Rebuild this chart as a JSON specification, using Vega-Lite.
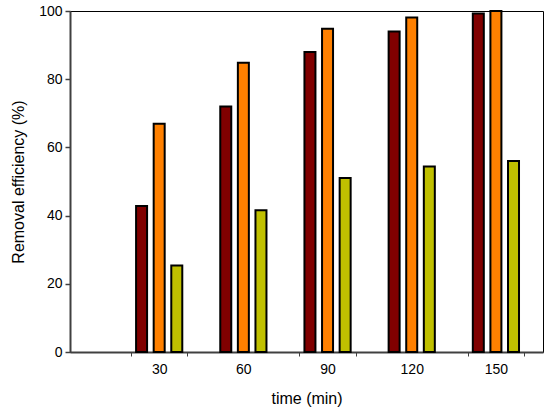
{
  "$schema": "https://vega.github.io/schema/vega-lite/v6.json",
  "autosize": {"type": "none"},
  "padding": {"left": 70, "top": 11, "right": 7, "bottom": 64},
  "width": 473,
  "height": 341,
  "background": "white",
  "config": {
    "view": {"stroke": "black", "strokeWidth": 1},
    "font": "Liberation Sans",
    "axis": {
      "labelFont": "Liberation Sans",
      "titleFont": "Liberation Sans",
      "labelFontSize": 14,
      "titleFontSize": 16,
      "titleFontWeight": "normal",
      "labelColor": "black",
      "titleColor": "black",
      "domainColor": "#404040",
      "domainWidth": 2,
      "tickColor": "#404040",
      "grid": false
    }
  },
  "data": {
    "values": [
      {"time": 30, "series": "A", "value": 42.8},
      {"time": 30, "series": "B", "value": 66.9},
      {"time": 30, "series": "C", "value": 25.4},
      {"time": 60, "series": "A", "value": 72.0},
      {"time": 60, "series": "B", "value": 84.8},
      {"time": 60, "series": "C", "value": 41.6},
      {"time": 90, "series": "A", "value": 88.0},
      {"time": 90, "series": "B", "value": 94.8},
      {"time": 90, "series": "C", "value": 51.0},
      {"time": 120, "series": "A", "value": 94.0},
      {"time": 120, "series": "B", "value": 98.1},
      {"time": 120, "series": "C", "value": 54.4},
      {"time": 150, "series": "A", "value": 99.3},
      {"time": 150, "series": "B", "value": 100},
      {"time": 150, "series": "C", "value": 56.0}
    ]
  },
  "encoding": {
    "x": {
      "field": "time",
      "type": "quantitative",
      "scale": {"domain": [0, 165], "nice": false, "zero": true},
      "axis": {
        "title": "time (min)",
        "titlePadding": 14,
        "values": [20, 30, 40, 60, 80, 90, 100, 120, 140, 150, 160],
        "labelExpr": "datum.value % 30 == 0 ? datum.label : ''",
        "labelPadding": 6,
        "tickSize": 4,
        "tickWidth": 1,
        "tickOpacity": {"condition": {"test": "datum.value % 30 == 0", "value": 0}, "value": 1}
      }
    },
    "y": {
      "field": "value",
      "type": "quantitative",
      "scale": {"domain": [0, 100], "nice": false},
      "axis": {
        "title": "Removal efficiency (%)",
        "values": [0, 20, 40, 60, 80, 100],
        "tickSize": 5,
        "tickWidth": 1.5,
        "labelPadding": 3,
        "titlePadding": 12
      }
    },
    "color": {
      "field": "series",
      "type": "nominal",
      "scale": {"domain": ["A", "B", "C"], "range": ["#800000", "#FF8000", "#C0C000"]},
      "legend": null
    }
  },
  "layer": [
    {
      "transform": [{"filter": "datum.series == 'A'"}],
      "mark": {"type": "bar", "size": 11, "xOffset": -17.6, "stroke": "black", "strokeWidth": 2}
    },
    {
      "transform": [{"filter": "datum.series == 'B'"}],
      "mark": {"type": "bar", "size": 11, "xOffset": 0, "stroke": "black", "strokeWidth": 2}
    },
    {
      "transform": [{"filter": "datum.series == 'C'"}],
      "mark": {"type": "bar", "size": 11, "xOffset": 17.6, "stroke": "black", "strokeWidth": 2}
    }
  ]
}
